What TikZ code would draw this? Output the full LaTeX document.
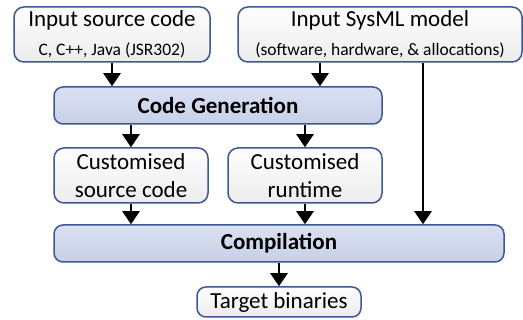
\documentclass[tikz,border=0pt]{standalone}
\usepackage{fontspec}
\setmainfont{Carlito}
\usetikzlibrary{arrows.meta,calc}
\definecolor{edgeblue}{HTML}{3D5894}
\definecolor{paletop}{HTML}{FEFEFE}
\definecolor{palebot}{HTML}{ECECEC}
\definecolor{stagetop}{HTML}{D9E0F1}
\definecolor{stagebot}{HTML}{C8D0E8}
\tikzset{
  databox/.style={draw=edgeblue, line width=1.5pt, rounded corners=10pt,
    top color=paletop, bottom color=palebot, align=center, inner sep=0pt,
    font=\fontsize{23}{28}\selectfont},
  stagebox/.style={draw=edgeblue, line width=1.5pt, rounded corners=9pt,
    top color=stagetop, bottom color=stagebot, inner sep=0pt,
    font=\fontsize{23}{28}\selectfont\bfseries},
  flow/.style={line width=2.5pt, -{Triangle[length=13pt,width=17pt]}},
}
\newcommand{\smalltxt}{\fontsize{17.5}{28}\selectfont}
\begin{document}
\begin{tikzpicture}[x=1pt,y=-1pt]
\useasboundingbox (0,0) rectangle (523,320);

% inputs
\node[databox, minimum width=196pt, minimum height=55pt] (src) at (112,34.5)
  {Input source code\\[1pt]\smalltxt C, C++, Java (JSR302)};
\node[databox, minimum width=284pt, minimum height=55pt] (sysml) at (380,34.5)
  {Input SysML model\\[1pt]\smalltxt (software, hardware, \& allocations)};

% code generation stage
\node[stagebox, minimum width=328pt, minimum height=37pt] (gen) at (218,105.5) {Code Generation};

% generated artefacts
\node[databox, minimum width=154pt, minimum height=55pt] (csrc) at (131,175.5)
  {Customised\\source code};
\node[databox, minimum width=154pt, minimum height=55pt] (crt) at (305,175.5)
  {Customised\\runtime};

% compilation stage
\node[stagebox, minimum width=450pt, minimum height=37pt] (comp) at (279,243.5) {Compilation};

% output
\node[databox, rounded corners=9pt, minimum width=164pt, minimum height=30pt] (bin) at (279,302)
  {Target binaries};

% connectors
\draw[flow] (src.south) -- (src.south |- gen.north);
\draw[flow] ([xshift=-60pt]sysml.south) -- ([xshift=-60pt]sysml.south |- gen.north);
\draw[flow] ([xshift=43pt]sysml.south) -- ([xshift=43pt]sysml.south |- comp.north);
\draw[flow] (gen.south -| csrc.north) -- (csrc.north);
\draw[flow] (gen.south -| crt.north) -- (crt.north);
\draw[flow] (csrc.south) -- (csrc.south |- comp.north);
\draw[flow] (crt.south) -- (crt.south |- comp.north);
\draw[flow] (comp.south) -- (bin.north);
\end{tikzpicture}
\end{document}
